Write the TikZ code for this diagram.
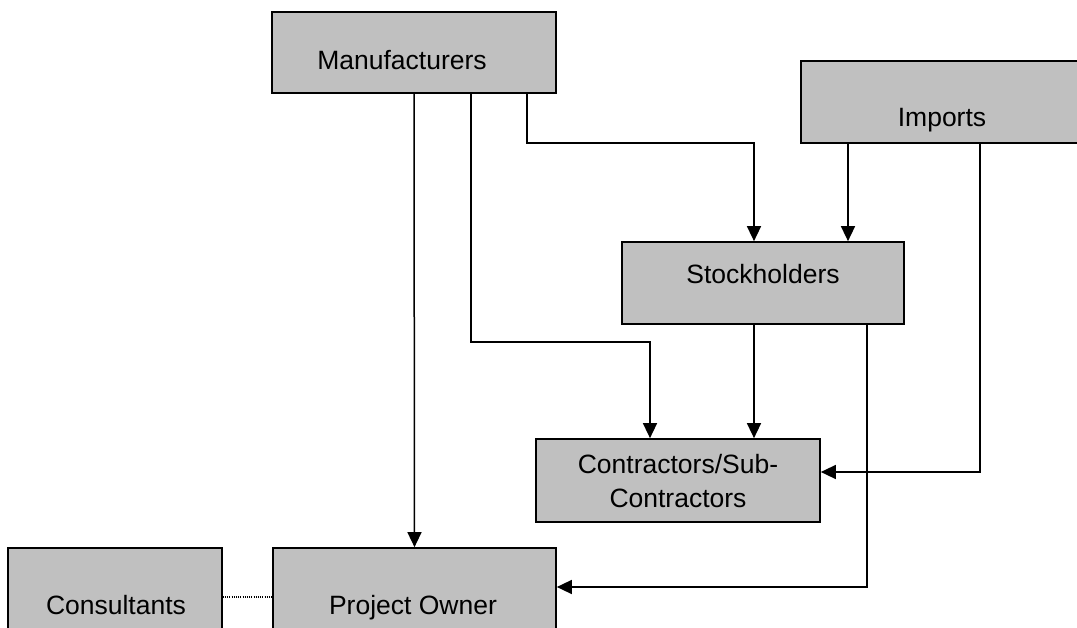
\documentclass[tikz,border=0pt]{standalone}
\usepackage{fontspec}
\setmainfont{Liberation Sans}
\usetikzlibrary{arrows.meta}
\definecolor{boxgray}{RGB}{192,192,192}

\begin{document}
\begin{tikzpicture}[x=1pt,y=-1pt,
    box/.style={draw,fill=boxgray,line width=1.7pt,inner sep=0pt},
    link/.style={line width=1.5pt,-{Triangle[length=15pt,width=14pt]}},
    dotline/.style={line width=1.1pt,dash pattern=on 1pt off 1.2pt},
    boxname/.style={font=\fontsize{26.5}{34}\selectfont,anchor=base,inner sep=0pt}]
\useasboundingbox (0,0) rectangle (1077,628);
% BOXES
\node[box,minimum width=284pt,minimum height=81pt] (manuf) at (414,52.5) {};
\node[box,minimum width=282pt,minimum height=82pt] (imports) at (942,102) {};
\node[box,minimum width=282pt,minimum height=82pt] (stock) at (763,283) {};
\node[box,minimum width=284pt,minimum height=83pt] (contr) at (678,480.5) {};
\node[box,minimum width=283pt,minimum height=82pt] (powner) at (414.5,589) {};
\node[box,minimum width=214pt,minimum height=82pt] (consult) at (115,589) {};
% BENDS
\coordinate (b1) at (471,342);
\coordinate (b2) at (527,143);
\coordinate (b3) at (980,472);
\coordinate (b4) at (867,587);
% CONNECTIONS
\draw[link] (manuf.south) -- (powner.north);
\draw[link] (manuf.south -| b1) -- (b1) -| ([xshift=-28pt]contr.north);
\draw[link] (manuf.south -| b2) -- (b2) -| ([xshift=-9pt]stock.north);

\draw[link] ([xshift=-94pt]imports.south) -- ([xshift=85pt]stock.north);
\draw[link] (imports.south -| b3) -- (b3) -- (contr.east |- b3);

\draw[link] ([xshift=-9pt]stock.south) -- ([xshift=76pt]contr.north);
\draw[link] (stock.south -| b4) -- (b4) -- (powner.east |- b4);

\draw[dotline] ([yshift=-8pt]consult.east) -- ([yshift=-8pt]powner.west);
% BOX NAMES
\node[boxname] (manuftext) at (402,70) {Manufacturers};
\node[boxname] (importstext) at (942,127) {Imports};
\node[boxname] (stocktext) at (763,284) {Stockholders};
\node[boxname,align=center] (contrtext) at (678,507) {Contractors/Sub-\\Contractors};
\node[boxname] (ownertext) at (413,614) {Project Owner};
\node[boxname] (consulttext) at (116,614) {Consultants};
\end{tikzpicture}
\end{document}
